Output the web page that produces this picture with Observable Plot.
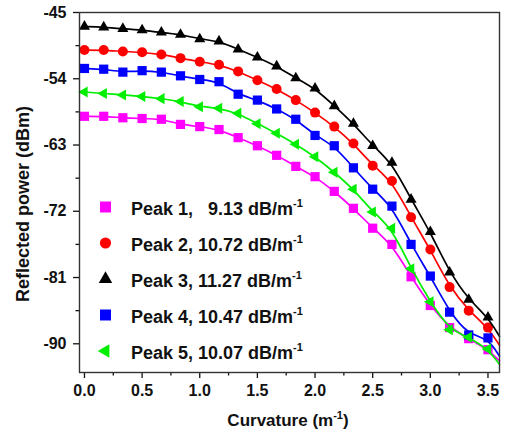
<!DOCTYPE html>
<html><head><meta charset="utf-8">
<script src="https://cdn.jsdelivr.net/npm/d3@7"></script>
<script src="https://cdn.jsdelivr.net/npm/@observablehq/plot@0.6"></script>
<style>
body{margin:0;background:#fff;}
#chart{width:505px;height:433px;}
svg{font-family:"Liberation Sans",Arial,sans-serif;}
</style></head><body><div id="chart"></div>
<script>
// Curvature (m^-1) of the measured points
const curvature = [0, 0.167, 0.333, 0.5, 0.667, 0.833, 1.0, 1.167, 1.333, 1.5, 1.667, 1.833,
                   2.0, 2.167, 2.333, 2.5, 2.667, 2.833, 3.0, 3.167, 3.333, 3.5];
// Reflected power (dBm) per peak
const peak1 = [-59.1, -59.1, -59.3, -59.4, -59.5, -60.2, -60.5, -60.9, -62.0, -63.1, -64.4, -65.9,
               -67.3, -69.3, -71.6, -74.3, -76.5, -80.9, -84.8, -87.8, -89.3, -90.8];
const peak2 = [-50.1, -50.1, -50.3, -50.4, -50.7, -51.2, -51.7, -52.1, -53.0, -54.2, -55.4, -56.9,
               -58.6, -60.5, -62.8, -65.8, -67.9, -72.8, -77.2, -82.3, -85.5, -87.8];
const peak3 = [-46.9, -47.0, -47.2, -47.4, -47.7, -48.0, -48.6, -48.9, -50.0, -51.1, -52.3, -53.9,
               -55.3, -57.7, -60.1, -63.1, -65.4, -70.4, -74.8, -80.3, -84.0, -86.4];
const peak4 = [-52.6, -52.7, -53.1, -52.9, -53.1, -53.6, -54.1, -54.4, -56.1, -56.9, -58.1, -59.5,
               -61.7, -63.1, -66.1, -69.0, -71.3, -76.5, -80.8, -85.7, -88.8, -89.2];
const peak5 = [-55.8, -56.0, -56.2, -56.4, -56.7, -57.1, -57.8, -58.0, -58.7, -60.1, -61.4, -62.9,
               -64.6, -66.7, -69.0, -72.1, -74.3, -79.8, -84.3, -88.1, -89.1, -90.7];
// fitted curves continue to the right edge of the frame
const fitEndX = 3.6;
const fitEndY = [-92.3, -90.2, -89.0, -91.7, -92.8];

const seriesNames = ["Peak 1", "Peak 2", "Peak 3", "Peak 4", "Peak 5"];
const sensitivities = ["  9.13", "10.72", "11.27", "10.47", "10.07"];
const seriesColors = ["#ff00ff", "#ff0000", "#000000", "#0000ff", "#00ee00"];

const xTicks = [0, 0.5, 1.0, 1.5, 2.0, 2.5, 3.0, 3.5];
const xMinorTicks = [0.25, 0.75, 1.25, 1.75, 2.25, 2.75, 3.25];
const yTicks = [-45, -54, -63, -72, -81, -90];
const yMinorTicks = [-49.5, -58.5, -67.5, -76.5, -85.5];

// symbols
const sqrt3 = Math.sqrt(3);
const symSquare = {draw(ctx, size) { const s = Math.sqrt(size) / 2; ctx.rect(-s, -s, 2 * s, 2 * s); }};
const symCircle = {draw(ctx, size) { const r = Math.sqrt(size / Math.PI); ctx.moveTo(r, 0); ctx.arc(0, 0, r, 0, 2 * Math.PI); }};
const symUp = {draw(ctx, size) {
  const y = -Math.sqrt(size / (sqrt3 * 3));
  ctx.moveTo(0, y * 2); ctx.lineTo(-sqrt3 * y, -y); ctx.lineTo(sqrt3 * y, -y); ctx.closePath(); }};
const symLeft = {draw(ctx, size) {
  const y = -Math.sqrt(size / (sqrt3 * 3));
  ctx.moveTo(y * 2, 0); ctx.lineTo(-y, sqrt3 * y); ctx.lineTo(-y, -sqrt3 * y); ctx.closePath(); }};
const seriesSymbols = [symSquare, symCircle, symUp, symSquare, symLeft];
const seriesR = [5.2, 5.0, 4.1, 5.2, 4.1];

const allPeaks = [peak1, peak2, peak3, peak4, peak5];
const pts = allPeaks.map((vals, i) => curvature.map((c, k) => ({x: c, y: vals[k], s: seriesNames[i]})));
const fits = pts.map((arr, i) => arr.concat([{x: fitEndX, y: fitEndY[i], s: seriesNames[i]}]));

const marks = [];
allPeaks.forEach((_, i) => {
  marks.push(Plot.line(fits[i], {x: "x", y: "y", stroke: seriesColors[i], strokeWidth: 1.7, curve: "basis"}));
  marks.push(Plot.dot(pts[i], {x: "x", y: "y", fill: seriesColors[i], stroke: "none", symbol: seriesSymbols[i], r: seriesR[i]}));
});

const chart = Plot.plot({
  width: 505, height: 433,
  marginLeft: 79, marginRight: 6, marginTop: 12, marginBottom: 61,
  x: {domain: [-0.043, 3.6]},
  y: {domain: [-93.9, -45]},
  style: {fontFamily: "'Liberation Sans', Arial, sans-serif", background: "#fff", color: "#111"},
  marks: [
    Plot.axisX({ticks: xTicks, tickSize: 6, tickPadding: 6, tickFormat: d => d.toFixed(1), fontSize: 16, fontWeight: "bold", label: null, strokeWidth: 1.3}),
    Plot.axisX({ticks: xMinorTicks, tickSize: 3.5, text: null, label: null, strokeWidth: 1.3}),
    Plot.axisY({ticks: yTicks, tickSize: 6, tickPadding: 7, tickFormat: d => String(d), fontSize: 16, fontWeight: "bold", label: null, strokeWidth: 1.3}),
    Plot.axisY({ticks: yMinorTicks, tickSize: 3.5, text: null, label: null, strokeWidth: 1.3}),
    ...marks,
    Plot.frame({stroke: "#333", strokeWidth: 1.4})
  ]
});
document.getElementById("chart").appendChild(chart);

const svg = d3.select(chart);
// axis titles
svg.append("text")
  .attr("transform", "translate(23,204) rotate(-90)")
  .attr("text-anchor", "middle").attr("dominant-baseline", "central")
  .attr("font-size", 18).attr("font-weight", "bold").attr("fill", "#111")
  .text("Reflected power (dBm)");
const xt = svg.append("text")
  .attr("x", 288).attr("y", 426).attr("text-anchor", "middle")
  .attr("font-size", 17).attr("font-weight", "bold").attr("fill", "#111");
xt.append("tspan").text("Curvature (m");
xt.append("tspan").attr("font-size", 11).attr("dy", -7).text("-1");
xt.append("tspan").attr("dy", 7).text(")");

// legend
const legendSymR = [6.2, 5.6, 5.0, 6.2, 5.0];
const lg = svg.append("g").attr("text-anchor", "start");
seriesNames.forEach((name, i) => {
  const cy = 207 + 36 * i;
  lg.append("path")
    .attr("transform", `translate(105.5,${cy})`)
    .attr("d", d3.symbol(seriesSymbols[i], Math.PI * legendSymR[i] * legendSymR[i])())
    .attr("fill", seriesColors[i]);
  const t = lg.append("text")
    .attr("x", 131).attr("y", cy + 7.5)
    .attr("text-anchor", "start")
    .attr("font-size", 18).attr("font-weight", "bold").attr("fill", "#111")
    .style("white-space", "pre");
  t.append("tspan").text(`${name}, ${sensitivities[i]} dB/m`);
  t.append("tspan").attr("font-size", 11).attr("dy", -8).text("-1");
});
</script></body></html>
